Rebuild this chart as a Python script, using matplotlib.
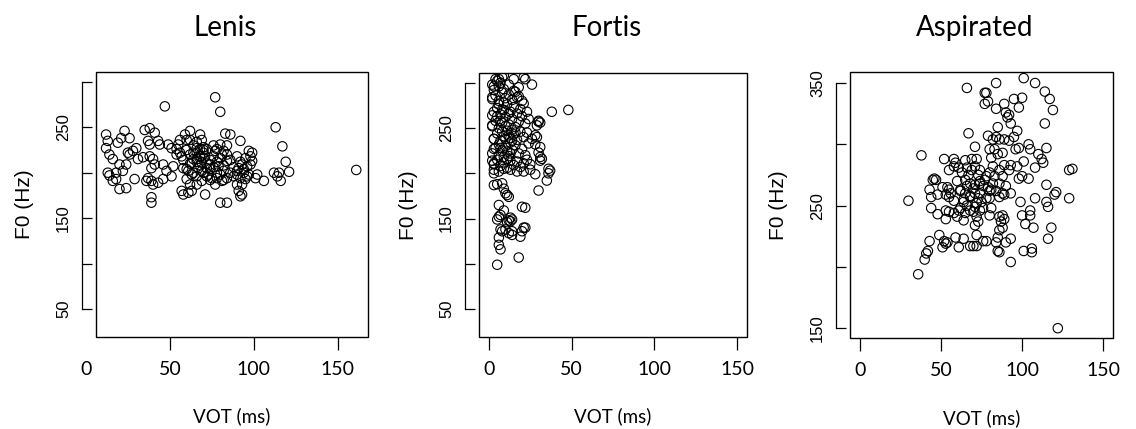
import matplotlib.pyplot as plt
import matplotlib.transforms as mtransforms
import numpy as np
from matplotlib.patches import Rectangle

# VOT (ms), F0 (Hz) pairs
lenis_points = [
  (47, 273), (77, 283), (80, 267), (12, 242), (13, 235), (12, 227), (14, 220), (16, 215), (13, 200),
  (14, 197), (16, 191), (18, 193), (20, 182), (24, 183), (18, 200), (20, 209), (19, 233), (21, 238),
  (23, 246), (26, 238), (25, 222), (26, 220), (28, 224), (30, 227), (31, 215), (24, 209), (22, 202),
  (29, 193), (34, 217), (35, 247), (38, 249), (41, 244), (37, 235), (38, 231), (43, 235), (44, 231),
  (38, 218), (40, 215), (41, 209), (39, 205), (39, 191), (36, 191), (40, 187), (43, 189), (37, 194),
  (46, 193), (39, 173), (39, 167), (46, 209), (48, 202), (49, 231), (51, 227), (52, 207), (51, 196),
  (54, 220), (56, 236), (55, 231), (59, 242), (62, 246), (60, 236), (57, 218), (58, 205), (61, 202),
  (63, 211), (64, 222), (66, 227), (68, 242), (69, 236), (66, 215), (68, 218), (69, 211), (71, 218),
  (70, 225), (67, 205), (69, 202), (72, 205), (74, 209), (73, 198), (75, 194), (69, 191), (66, 187),
  (63, 198), (60, 193), (62, 187), (63, 180), (57, 180), (58, 176), (61, 178), (71, 176), (83, 243),
  (86, 242), (80, 231), (77, 224), (81, 220), (84, 213), (79, 207), (82, 202), (78, 194), (81, 191),
  (84, 194), (77, 187), (80, 167), (84, 167), (113, 250), (117, 229), (119, 212), (121, 201),
  (112, 200), (114, 196), (116, 191), (115, 200), (106, 191), (101, 194), (102, 198), (161, 203),
  (92, 235), (97, 224), (99, 222), (98, 218), (95, 216), (93, 209), (96, 207), (91, 205), (94, 200),
  (97, 198), (92, 194), (95, 193), (90, 187), (93, 187), (91, 180), (92, 174), (93, 176), (90, 198),
  (98, 209), (99, 213), (60, 225), (62, 220), (64, 215), (66, 212), (68, 208), (70, 222), (72, 226),
  (74, 214), (76, 218), (64, 230), (66, 222), (68, 226), (70, 216), (72, 210), (74, 204), (76, 206),
  (78, 212), (80, 216), (82, 208), (84, 220), (86, 214), (88, 206), (90, 218), (92, 212), (86, 200),
  (88, 196), (90, 202), (94, 204), (96, 196), (62, 210), (58, 214), (56, 222), (54, 226), (60, 204),
  (64, 200), (66, 196), (70, 200), (72, 196), (78, 200), (80, 198), (82, 192), (74, 192), (68, 218),
  (70, 228), (66, 234), (62, 236), (76, 230), (78, 226), (82, 224), (84, 230),
]

fortis_points = [
  (3, 296), (5, 302), (8, 306), (15, 304), (21, 306), (22, 304), (26, 298), (4, 304), (9, 308),
  (18, 295), (17, 284), (2, 298), (6, 304), (38, 268), (48, 270), (30, 257), (31, 256), (29, 253),
  (28, 242), (28, 232), (31, 229), (30, 223), (32, 216), (31, 214), (36, 205), (37, 203), (28, 199),
  (36, 200), (35, 192), (30, 181), (30, 258), (29, 240), (31, 218), (3, 204), (6, 202), (9, 205),
  (13, 204), (17, 202), (21, 202), (25, 204), (5, 188), (8, 189), (9, 183), (10, 178), (12, 174),
  (11, 176), (6, 165), (9, 159), (20, 163), (22, 162), (5, 149), (6, 152), (7, 154), (13, 151),
  (14, 149), (13, 147), (7, 138), (8, 136), (10, 138), (12, 134), (14, 132), (14, 136), (21, 140),
  (20, 136), (22, 140), (19, 130), (6, 129), (6, 121), (7, 116), (18, 107), (5, 99), (3, 187),
  (11, 146), (12, 148), (2, 284), (2, 264), (2, 253), (3, 238), (3, 227), (2, 214), (3, 200),
  (3, 211), (3, 210), (5, 215), (7, 208), (9, 212), (11, 206), (13, 214), (15, 209), (17, 213),
  (19, 207), (21, 211), (23, 215), (25, 210), (2, 222), (4, 228), (6, 220), (8, 225), (10, 230),
  (12, 219), (14, 226), (16, 231), (18, 222), (20, 227), (22, 220), (24, 233), (3, 238), (5, 244),
  (7, 236), (9, 241), (11, 247), (13, 239), (15, 243), (17, 237), (19, 246), (21, 240), (23, 245),
  (26, 238), (2, 252), (4, 258), (6, 250), (8, 256), (10, 262), (12, 254), (14, 260), (16, 251),
  (18, 257), (20, 263), (22, 255), (24, 260), (3, 268), (5, 272), (7, 265), (9, 270), (11, 276),
  (13, 268), (15, 273), (17, 266), (19, 271), (21, 277), (23, 268), (2, 282), (4, 286), (6, 280),
  (8, 289), (10, 283), (12, 287), (14, 281), (16, 290), (18, 285), (20, 280), (3, 292), (6, 296),
  (9, 293), (12, 298), (15, 291), (7, 300), (6, 232), (8, 246), (10, 238), (12, 266), (14, 248),
  (9, 278), (11, 224), (13, 234), (7, 258), (5, 263), (10, 252), (12, 242), (8, 270), (6, 276),
  (14, 236), (16, 245), (11, 216), (13, 222), (7, 228), (9, 218),
]

aspirated_points = [
  (66, 346), (77, 342), (77, 333), (67, 309), (71, 298), (38, 291), (52, 288), (58, 288), (59, 285),
  (65, 287), (69, 288), (72, 288), (55, 279), (58, 282), (61, 281), (63, 277), (66, 281), (67, 275),
  (69, 279), (71, 282), (73, 275), (74, 279), (65, 271), (68, 268), (71, 267), (74, 268), (46, 272),
  (45, 271), (47, 271), (43, 263), (51, 265), (54, 265), (55, 263), (44, 257), (48, 259), (53, 259),
  (55, 257), (30, 254), (62, 263), (65, 260), (68, 257), (71, 260), (73, 256), (64, 253), (75, 253),
  (84, 350), (101, 354), (108, 350), (78, 342), (79, 335), (84, 329), (89, 333), (95, 337), (98, 330),
  (100, 338), (114, 343), (117, 337), (119, 328), (90, 326), (91, 322), (92, 324), (114, 317),
  (85, 314), (93, 317), (97, 311), (79, 307), (82, 304), (84, 306), (86, 304), (89, 304), (92, 303),
  (95, 306), (80, 296), (83, 296), (85, 292), (81, 289), (88, 293), (96, 296), (98, 297), (104, 300),
  (105, 296), (110, 292), (115, 297), (112, 288), (113, 285), (108, 281), (101, 286), (97, 282),
  (93, 283), (89, 283), (86, 279), (82, 282), (80, 277), (83, 274), (88, 274), (92, 279), (98, 272),
  (100, 274), (104, 272), (129, 279), (131, 280), (115, 267), (120, 259), (121, 261), (129, 256),
  (108, 256), (115, 253), (99, 253), (93, 260), (89, 259), (86, 257), (81, 263), (80, 256), (79, 265),
  (77, 271), (44, 248), (48, 243), (53, 246), (55, 245), (53, 239), (58, 244), (60, 241), (61, 246),
  (64, 238), (65, 244), (68, 246), (71, 249), (72, 241), (71, 234), (73, 237), (74, 246), (49, 226),
  (52, 221), (53, 219), (51, 216), (54, 220), (59, 224), (61, 216), (64, 223), (68, 217), (70, 217),
  (72, 217), (72, 226), (43, 221), (42, 213), (41, 211), (40, 206), (36, 194), (76, 221), (78, 221),
  (80, 242), (81, 248), (86, 241), (88, 242), (89, 239), (87, 237), (86, 230), (88, 232), (85, 224),
  (84, 220), (90, 220), (93, 223), (86, 212), (85, 213), (93, 204), (100, 242), (102, 235),
  (105, 246), (105, 242), (107, 232), (101, 213), (106, 215), (106, 212), (116, 249), (116, 223),
  (118, 232), (122, 150), (62, 262), (64, 255), (66, 250), (68, 258), (70, 264), (72, 252), (74, 260),
  (76, 266), (78, 256), (80, 262), (82, 268), (66, 266), (62, 248), (58, 254), (56, 260), (60, 270),
  (74, 270), (78, 274), (84, 262), (86, 268), (88, 260), (90, 266), (70, 245), (76, 248),
]

panel_titles = ["Lenis", "Fortis", "Aspirated"]
x_ticks = [0, 50, 100, 150]
y_ticks_low = [50, 100, 150, 200, 250, 300]
y_labels_low = ["50", "", "150", "", "250", ""]
y_ticks_asp = [150, 200, 250, 300, 350]
y_labels_asp = ["150", "", "250", "", "350"]

SANS = "Liberation Sans"
CAL = "Lato"

W, H = 1136, 429
# axes boxes in pixels: left, top, right, bottom
boxes = [(96, 72, 368, 337), (479, 73, 747, 337), (850, 72, 1113, 338)]
xlims = [(6, 168), (-6, 156), (-6, 156)]
ylims = [(19.2, 310.8), (19.2, 310.8), (142, 359)]
yspine = [(50, 300), (50, 300), (150, 350)]

XT_LEN, XT_PAD = 9.5, 8


def add_panel(fig, box, pts, title, xlim, ylim, yticks, ylabels, ybounds):
  l, t, r, b = box
  ax = fig.add_axes([l / W, 1 - b / H, (r - l) / W, (b - t) / H])
  arr = np.array(pts, dtype=float)
  ax.scatter(arr[:, 0], arr[:, 1], s=46, facecolors="none", edgecolors="black", linewidths=0.8)
  ax.set_xlim(*xlim)
  ax.set_ylim(*ylim)

  for s in ["top", "right", "bottom"]:
    ax.spines[s].set_visible(False)
  ax.add_patch(Rectangle((0, 0), 1, 1, transform=ax.transAxes, fill=False, lw=1.0,
                         ec="black", clip_on=False, zorder=5))
  ax.spines["left"].set_position(("outward", 10))
  ax.spines["left"].set_bounds(*ybounds)
  ax.spines["left"].set_linewidth(0.9)

  ax.set_yticks(yticks)
  ax.set_yticklabels(ylabels, rotation=90, va="center", fontfamily=SANS, fontsize=12)
  ax.tick_params(axis="y", direction="in", length=7.2, width=0.9, pad=8)

  ticks_in = [v for v in x_ticks if xlim[0] <= v <= xlim[1]]
  ax.set_xticks(ticks_in)
  ax.set_xticklabels([str(v) for v in ticks_in], fontfamily=CAL, fontsize=14)
  ax.tick_params(axis="x", direction="out", length=XT_LEN, width=0.9, pad=XT_PAD)
  off = mtransforms.ScaledTranslation(0, -(XT_LEN + XT_PAD) / 72, fig.dpi_scale_trans)
  for v in x_ticks:
    if v not in ticks_in:
      # label sits left of the box, the tick itself falls outside the plotting range
      ax.text(v, 0, str(v), transform=ax.get_xaxis_transform() + off, ha="center", va="top",
              fontfamily=CAL, fontsize=14)

  ax.text(0.5, -0.30, "VOT (ms)", transform=ax.transAxes, ha="center", va="center",
          fontfamily=CAL, fontsize=13.5)
  ax.text(-71 / (r - l), 0.5, "F0 (Hz)", transform=ax.transAxes, rotation=90,
          ha="center", va="center", fontfamily=SANS, fontsize=15)
  fig.text((l + r) / 2 / W - 0.006, 1 - 28 / H, title, ha="center", va="center",
           fontfamily=CAL, fontsize=20)
  return ax


fig = plt.figure(figsize=(W / 100, H / 100), dpi=100)
panels = [
  (lenis_points, y_ticks_low, y_labels_low),
  (fortis_points, y_ticks_low, y_labels_low),
  (aspirated_points, y_ticks_asp, y_labels_asp),
]
for i, (pts, yt, yl) in enumerate(panels):
  add_panel(fig, boxes[i], pts, panel_titles[i], xlims[i], ylims[i], yt, yl, yspine[i])

fig.savefig("out.png", dpi=100)
